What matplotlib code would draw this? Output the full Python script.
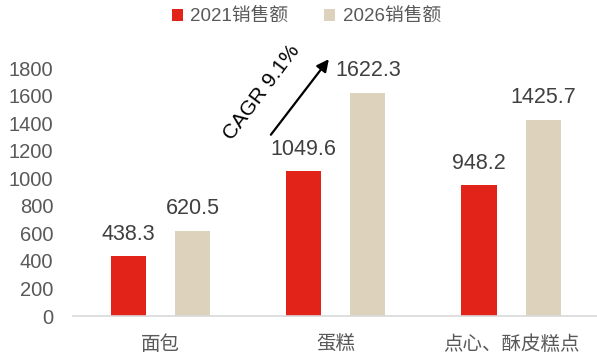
import matplotlib.pyplot as plt
import numpy as np

plt.rcParams['font.family'] = ['Liberation Sans', 'Noto Sans CJK SC']

categories = ['面包', '蛋糕', '点心、酥皮糕点']
sales_2021 = [438.3, 1049.6, 948.2]
sales_2026 = [620.5, 1622.3, 1425.7]
yticks = [0, 200, 400, 600, 800, 1000, 1200, 1400, 1600, 1800]

red = '#E2231A'
beige = '#DDD3BD'
grey = '#595959'

fig = plt.figure(figsize=(5.97, 3.58), dpi=100)
ax = fig.add_axes([0.122, 0.117, 0.878, 0.693])

x = np.arange(len(categories))
w = 0.2
off = 0.183
b1 = ax.bar(x - off, sales_2021, w, color=red, label='2021销售额')
b2 = ax.bar(x + off, sales_2026, w, color=beige, label='2026销售额')

# 柱顶数值
for bars, vals in ((b1, sales_2021), (b2, sales_2026)):
    for r, v in zip(bars, vals):
        ax.annotate(f'{v:.1f}', (r.get_x() + r.get_width() / 2, v),
                    xytext=(0, 8), textcoords='offset points',
                    ha='center', va='bottom', fontsize=15.5, color='#404040')

ax.set_xlim(-0.5, 2.49)
ax.set_ylim(0, 1800)
ax.set_yticks(yticks)
ax.set_xticks(x)
ax.set_xticklabels(categories, family=['Noto Sans CJK SC'], fontsize=14, color=grey)
ax.tick_params(axis='y', length=0, pad=14, labelsize=14.5, labelcolor=grey)
ax.tick_params(axis='x', length=0, pad=13)

for s in ['top', 'right', 'left']:
    ax.spines[s].set_visible(False)
ax.spines['bottom'].set_color('#D9D9D9')
ax.spines['bottom'].set_linewidth(1.2)

# 复合增长率箭头
ax.annotate('', xy=(0.97, 1880), xytext=(0.62, 1300),
            arrowprops=dict(arrowstyle='-|>', color='black', lw=1.6,
                            mutation_scale=18),
            annotation_clip=False)
ax.text(0.575, 1625, 'CAGR 9.1%', rotation=53, ha='center', va='center',
        fontsize=15, color='black', rotation_mode='anchor')

leg = fig.legend(loc='upper center', bbox_to_anchor=(0.513, 1.025), ncol=2,
                 frameon=False, handlelength=0.6, handleheight=0.6,
                 handletextpad=0.4, columnspacing=1.9,
                 prop={'family': ['Liberation Sans', 'Noto Sans CJK SC'], 'size': 13.5})
for t in leg.get_texts():
    t.set_color(grey)

fig.savefig('out.png', dpi=100)
